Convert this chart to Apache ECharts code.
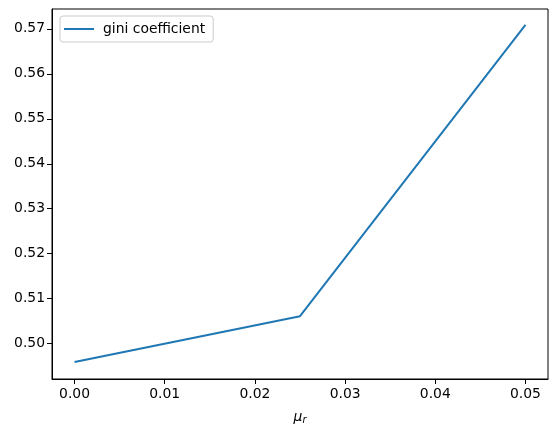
<!DOCTYPE html>
<html><head><meta charset="utf-8">
<script src="https://cdn.jsdelivr.net/npm/echarts@6/dist/echarts.min.js"></script>
<style>html,body{margin:0;padding:0;background:#fff}#c{width:556px;height:433px}</style>
</head><body><div id="c"></div>
<script>
const xValues = [0.0, 0.025, 0.05];
const giniValues = [0.4959, 0.5061, 0.5709];
const xTicks = [0.00, 0.01, 0.02, 0.03, 0.04, 0.05];
const yTicks = [0.50, 0.51, 0.52, 0.53, 0.54, 0.55, 0.56, 0.57];
const seriesName = 'gini coefficient';

const font = 'DejaVu Sans';
const chart = echarts.init(document.getElementById('c'), null, {renderer: 'canvas'});
chart.setOption({
  animation: false,
  backgroundColor: '#fff',
  grid: {left: 52, right: 8, top: 9, bottom: 54, show: false},
  legend: {
    show: true, left: 60, top: 16, orient: 'vertical',
    data: [{name: seriesName, icon: 'path://M0,0 L30,0 L30,2 L0,2 Z'}],
    itemWidth: 30, itemHeight: 2, itemGap: 6,
    padding: [6, 8, 6, 4],
    borderColor: '#cccccc', borderWidth: 1, borderRadius: 3,
    backgroundColor: 'rgba(255,255,255,0.8)',
    textStyle: {fontFamily: font, fontSize: 13.9, color: '#000', padding: [0, 0, 0, 4]}
  },
  xAxis: {
    type: 'value', min: -0.0025, max: 0.0525,
    name: '{i|μ}{s|r}', nameLocation: 'middle', nameGap: 30,
    nameTextStyle: {rich: {
      i: {fontFamily: font, fontStyle: 'italic', fontSize: 13.9, color: '#000'},
      s: {fontFamily: font, fontStyle: 'italic', fontSize: 9.7, color: '#000', verticalAlign: 'bottom', padding: [6, 0, 0, 0]}
    }},
    splitLine: {show: false},
    axisLine: {show: true, onZero: false, lineStyle: {color: '#000', width: 1}},
    axisTick: {show: true, inside: false, length: 5, lineStyle: {color: '#000'}, customValues: xTicks},
    axisLabel: {fontFamily: font, fontSize: 13.9, color: '#000', margin: 8, customValues: xTicks,
      formatter: v => v.toFixed(2)}
  },
  yAxis: {
    type: 'value', min: 0.49214, max: 0.57441,
    splitLine: {show: false},
    axisLine: {show: true, onZero: false, lineStyle: {color: '#000', width: 1}},
    axisTick: {show: true, inside: false, length: 5, lineStyle: {color: '#000'}, customValues: yTicks},
    axisLabel: {fontFamily: font, fontSize: 13.9, color: '#000', margin: 7, customValues: yTicks,
      formatter: v => v.toFixed(2)}
  },
  series: [{
    name: seriesName, type: 'line',
    data: xValues.map((x, i) => [x, giniValues[i]]),
    showSymbol: false, symbol: 'none',
    lineStyle: {color: '#1f77b4', width: 2},
    itemStyle: {color: '#1f77b4'}
  }]
});
// top and right spines
const g = chart.getModel().getComponent('grid').coordinateSystem.getRect();
chart.setOption({graphic: [{type: 'rect', shape: {x: g.x, y: g.y, width: g.width, height: g.height},
  style: {fill: null, stroke: '#000', lineWidth: 1}, z: 10, silent: true}]});
</script></body></html>
